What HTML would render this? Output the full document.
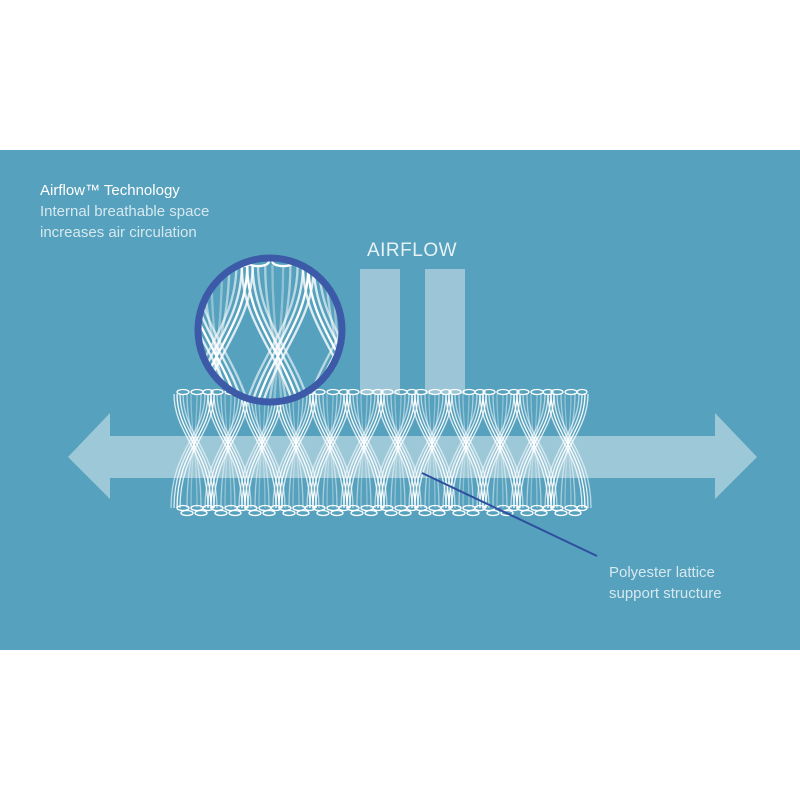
<!DOCTYPE html>
<html><head><style>
body{margin:0;background:#fff;width:800px;height:800px;overflow:hidden;font-family:"Liberation Sans","DejaVu Sans",sans-serif}
</style></head><body>
<svg width="800" height="800" xmlns="http://www.w3.org/2000/svg" xmlns:xlink="http://www.w3.org/1999/xlink">
<defs>
<g id="col" fill="none" stroke="#fff" stroke-width="1.3">
  <path d="M0,4 C0,45 34,60 34,118"/><path d="M3,4 C3,45 37,60 37,118" opacity=".8"/><path d="M-3,4 C-3,45 31,60 31,118" opacity=".8"/><path d="M6,4 C6,45 40,60 40,118" opacity=".6"/>
  <path d="M34,4 C34,45 0,60 0,118"/><path d="M31,4 C31,45 -3,60 -3,118" opacity=".8"/><path d="M37,4 C37,45 3,60 3,118" opacity=".8"/><path d="M28,4 C28,45 -6,60 -6,118" opacity=".6"/>
  <path d="M10,4 C10,45 24,60 24,118" opacity=".5"/><path d="M24,4 C24,45 10,60 10,118" opacity=".5"/>
  <path d="M14,4 C14,45 20,60 20,118" opacity=".35"/><path d="M20,4 C20,45 14,60 14,118" opacity=".35"/>
  <ellipse cx="6" cy="2" rx="6" ry="2.5"/><ellipse cx="20" cy="2" rx="6" ry="2.5"/><ellipse cx="31" cy="2" rx="5" ry="2.5"/>
  <ellipse cx="6" cy="118" rx="6" ry="2.5"/><ellipse cx="20" cy="118" rx="6" ry="2.5"/><ellipse cx="31" cy="118" rx="5" ry="2.5"/>
  <ellipse cx="10" cy="123" rx="6" ry="2.5"/><ellipse cx="24" cy="123" rx="6" ry="2.5"/>
</g>
<g id="lat">
 <use xlink:href="#col" x="0"/><use xlink:href="#col" x="34"/><use xlink:href="#col" x="68"/><use xlink:href="#col" x="102"/>
 <use xlink:href="#col" x="136"/><use xlink:href="#col" x="170"/><use xlink:href="#col" x="204"/><use xlink:href="#col" x="238"/>
 <use xlink:href="#col" x="272"/><use xlink:href="#col" x="306"/><use xlink:href="#col" x="340"/><use xlink:href="#col" x="374"/>
</g>
<clipPath id="cc"><circle cx="270" cy="330" r="70"/></clipPath>
</defs>
<rect x="0" y="150" width="800" height="500" fill="#56a1bd"/>
<rect x="360" y="269" width="40" height="125" fill="#9cc6d8"/>
<rect x="425" y="269" width="40" height="125" fill="#9cc6d8"/>
<text x="412" y="256" text-anchor="middle" font-size="19" fill="#e8f2f6" letter-spacing="0.5">AIRFLOW</text>
<path d="M68,457 L110,413 L110,436 L715,436 L715,413 L757,457 L715,499 L715,478 L110,478 L110,499 Z" fill="#a9cfdd" opacity=".85"/>
<g transform="translate(177,390)"><use xlink:href="#lat"/></g>
<g clip-path="url(#cc)">
 <rect x="190" y="250" width="160" height="160" fill="#56a1bd"/>
 <g transform="translate(186,258) scale(1.8)"><use xlink:href="#lat"/></g>
</g>
<circle cx="270" cy="330" r="72" fill="none" stroke="#3c5aa8" stroke-width="7"/>
<line x1="422" y1="473" x2="597" y2="556" stroke="#2e4e9e" stroke-width="2"/>
<text x="40" y="195" font-size="15" fill="#fff">Airflow™ Technology</text>
<text x="40" y="216" font-size="15" fill="#d6e8ef">Internal breathable space</text>
<text x="40" y="237" font-size="15" fill="#d6e8ef">increases air circulation</text>
<text x="609" y="577" font-size="15" fill="#d6e8ef">Polyester lattice</text>
<text x="609" y="598" font-size="15" fill="#d6e8ef">support structure</text>
</svg>
</body></html>
